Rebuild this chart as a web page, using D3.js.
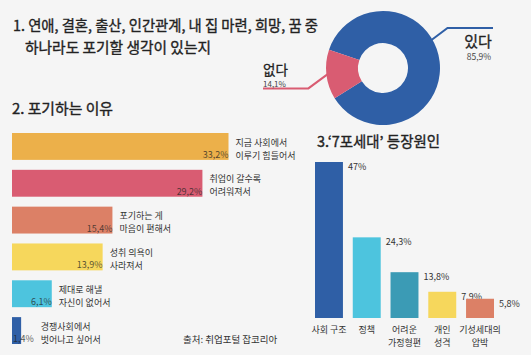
<!DOCTYPE html>
<html><head><meta charset="utf-8">
<script src="https://cdn.jsdelivr.net/npm/d3@7"></script>
<style>html,body{margin:0;padding:0;background:#f5f5f5}svg{display:block}</style>
</head><body><svg id="c" width="531" height="355"></svg>
<script>
// ---- data ----
const donutLabels = ["있다", "없다"];
const donutValues = [85.9, 14.1];
const donutValueLabels = ["85,9%", "14,1%"];

const reasonLines = [
  ["지금 사회에서", "이루기 힘들어서"],
  ["취업이 갈수록", "어려워져서"],
  ["포기하는 게", "마음이 편해서"],
  ["성취 의욕이", "사라져서"],
  ["제대로 해낼", "자신이 없어서"],
  ["경쟁사회에서", "벗어나고 싶어서"]
];
const reasonValues = [33.2, 29.2, 15.4, 13.9, 6.1, 1.4];
const reasonValueLabels = ["33,2%", "29,2%", "15,4%", "13,9%", "6,1%", "1,4%"];

const causeLines = [["사회 구조"], ["정책"], ["어려운", "가정형편"], ["개인", "성격"], ["기성세대의", "압박"]];
const causeValues = [47, 24.3, 13.8, 7.9, 5.8];
const causeValueLabels = ["47%", "24,3%", "13,8%", "7,9%", "5,8%"];

const titles = ["1. 연애, 결혼, 출산, 인간관계, 내 집 마련, 희망, 꿈 중", "하나라도 포기할 생각이 있는지", "2. 포기하는 이유", "3.‘7포세대’ 등장원인"];
const sourceText = "출처: 취업포털 잡코리아";

// ---- styles ----
const FONT = "'Noto Sans CJK KR','Noto Sans',sans-serif";
const donutColors = ["#2f5fa6", "#d95c72"];
const reasonColors = ["#ecb04a", "#d95c72", "#dc8066", "#f6d75c", "#4dc4de", "#2f5fa6"];
const causeColors = ["#2f5fa6", "#4dc4de", "#3b9bb5", "#f6d75c", "#dc8066"];

const svg = d3.select("#c").style("font-family", FONT);
svg.append("rect").attr("width", 531).attr("height", 355).attr("fill", "#f5f5f5");

function heavy(sel, c, w) { return sel.attr("stroke", c).attr("stroke-width", w).attr("paint-order", "stroke"); }

// ---- titles ----
const titlePos = [[13, 31, 305], [25, 53, 186], [12, 114, 101], [317, 147, 123]];
titles.forEach((t, i) => {
  heavy(svg.append("text").attr("x", titlePos[i][0]).attr("y", titlePos[i][1])
    .attr("font-size", 14.5).attr("fill", "#222")
    .attr("textLength", titlePos[i][2]).attr("lengthAdjust", "spacingAndGlyphs")
    .text(t), "#222", 0.35);
});

// ---- donut ----
const cx = 383, cy = 68, rO = 57, rI = 25;
const pie = d3.pie().sort(null).startAngle(-71.2 * Math.PI / 180).endAngle((360 - 71.2) * Math.PI / 180);
const arcs = pie(donutValues);
const arc = d3.arc().innerRadius(rI).outerRadius(rO);
const dg = svg.append("g").attr("transform", `translate(${cx},${cy})`);
dg.selectAll("path").data(arcs).join("path").attr("d", arc).attr("fill", (d, i) => donutColors[i]);

function polar(a, r) { return [cx + r * Math.sin(a), cy - r * Math.cos(a)]; }
// leader for 있다
{
  const p0 = polar(60 * Math.PI / 180, rO - 1);
  const p1 = [p0[0] + 16, p0[1] - 12];
  const p2 = [493, p1[1]];
  svg.append("path").attr("d", d3.line()([p0, p1, p2])).attr("fill", "none")
    .attr("stroke", donutColors[0]).attr("stroke-width", 2);
  heavy(svg.append("text").attr("x", 478).attr("y", 47).attr("text-anchor", "middle")
    .attr("font-size", 15).attr("fill", "#222").text(donutLabels[0]), "#222", 0.3);
  svg.append("text").attr("x", 479).attr("y", 60).attr("text-anchor", "middle")
    .attr("font-size", 8.5).attr("fill", "#444").text(donutValueLabels[0]);
}
// leader for 없다
{
  const mid = (arcs[1].startAngle + arcs[1].endAngle) / 2;
  const p0 = polar(mid, rO - 1);
  const p1 = [p0[0] - 19, p0[1] + 14];
  const p2 = [263, p1[1]];
  svg.append("path").attr("d", d3.line()([p0, p1, p2])).attr("fill", "none")
    .attr("stroke", donutColors[1]).attr("stroke-width", 2);
  heavy(svg.append("text").attr("x", 263).attr("y", 75)
    .attr("font-size", 13.5).attr("fill", "#222").text(donutLabels[1]), "#222", 0.3);
  svg.append("text").attr("x", 263).attr("y", 87)
    .attr("font-size", 8).attr("fill", "#444").text(donutValueLabels[1]);
}

// ---- horizontal bars ----
const hx = d3.scaleLinear().domain([0, 33.2]).range([12, 228.5]);
const hy = d3.scaleBand().domain(d3.range(reasonValues.length)).range([133, 344]).paddingInner(0.27);
const hg = svg.append("g");
reasonValues.forEach((v, i) => {
  const y0 = hy(i), h = hy.bandwidth(), x1 = hx(v);
  hg.append("rect").attr("x", hx(0)).attr("y", y0).attr("width", x1 - hx(0)).attr("height", h)
    .attr("fill", reasonColors[i]);
  const vt = hg.append("text").attr("font-size", 9).attr("fill", "#222").attr("fill-opacity", 0.75)
    .attr("y", y0 + h - 2).text(reasonValueLabels[i]);
  const w = vt.node().getComputedTextLength();
  const vEnd = Math.max(x1, hx(0) + w + 1);
  vt.attr("x", vEnd).attr("text-anchor", "end");
  const lx = vEnd + 7;
  reasonLines[i].forEach((ln, j) => {
    hg.append("text").attr("x", lx).attr("y", y0 + 12.5 + j * 13)
      .attr("font-size", 9).attr("fill", "#333").text(ln);
  });
});

// ---- vertical bars ----
const vx = d3.scaleBand().domain(d3.range(causeValues.length)).range([315, 494]).paddingInner(0.26).paddingOuter(0);
const vy = d3.scaleLinear().domain([0, 47]).range([318, 162]);
const vg = svg.append("g");
causeValues.forEach((v, i) => {
  const x0 = vx(i), bw = vx.bandwidth();
  vg.append("rect").attr("x", x0).attr("y", vy(v)).attr("width", bw).attr("height", vy(0) - vy(v))
    .attr("fill", causeColors[i]);
  vg.append("text").attr("x", x0 + bw + 5).attr("y", vy(v) + 8)
    .attr("font-size", 9).attr("fill", "#333").text(causeValueLabels[i]);
  causeLines[i].forEach((ln, j) => {
    vg.append("text").attr("x", x0 + bw / 2).attr("y", 333 + j * 13).attr("text-anchor", "middle")
      .attr("font-size", 9).attr("fill", "#333").text(ln);
  });
});

// ---- source ----
svg.append("text").attr("x", 183).attr("y", 343).attr("font-size", 9.5).attr("fill", "#333").text(sourceText);
</script></body></html>
